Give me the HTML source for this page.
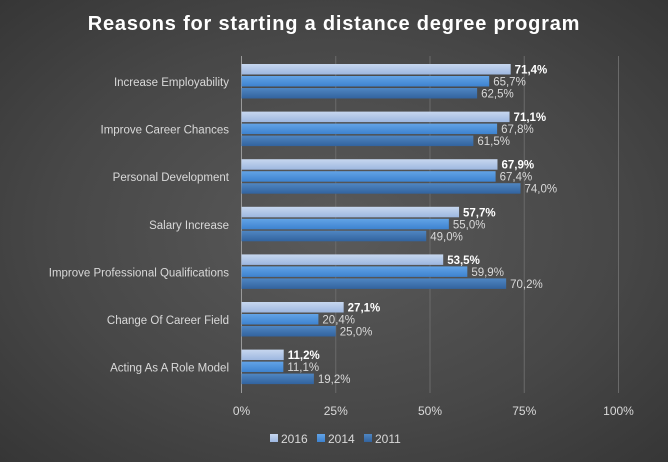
<!DOCTYPE html>
<html><head><meta charset="utf-8"><style>
body{margin:0;width:668px;height:462px;overflow:hidden;background:radial-gradient(ellipse at 50% 50%,#5a5a5a 0%,#474747 60%,#363636 100%);font-family:"Liberation Sans",sans-serif;}
svg{display:block}
</style></head><body>
<svg id="chart" width="668" height="462" xmlns="http://www.w3.org/2000/svg">
<defs>
<linearGradient id="g0" x1="0" y1="0" x2="0" y2="1"><stop offset="0" stop-color="#c7d7ef"/><stop offset="1" stop-color="#9db7e0"/></linearGradient>
<linearGradient id="g1" x1="0" y1="0" x2="0" y2="1"><stop offset="0" stop-color="#62a3e6"/><stop offset="1" stop-color="#3d82cf"/></linearGradient>
<linearGradient id="g2" x1="0" y1="0" x2="0" y2="1"><stop offset="0" stop-color="#4f86c2"/><stop offset="1" stop-color="#32639e"/></linearGradient>
</defs>
<text x="334" y="30" text-anchor="middle" fill="#ffffff" font-size="20" font-weight="bold" letter-spacing="0.8">Reasons for starting a distance degree program</text>
<g id="grid"></g><g id="bars"></g><g id="labels"></g><g id="legend"></g>
</svg>
<script>
const categories=["Increase Employability","Improve Career Chances","Personal Development","Salary Increase","Improve Professional Qualifications","Change Of Career Field","Acting As A Role Model"];
const seriesNames=["2016","2014","2011"];
const s2016=[71.4,71.1,67.9,57.7,53.5,27.1,11.2];
const s2014=[65.7,67.8,67.4,55.0,59.9,20.4,11.1];
const s2011=[62.5,61.5,74.0,49.0,70.2,25.0,19.2];
const ticks=[0,25,50,75,100];
const series=[s2016,s2014,s2011];
const NS="http://www.w3.org/2000/svg";
const x0=241.5,x1=618.5;
function xs(v){return x0+(x1-x0)*v/100;}
function gy(i){return 64+i*47.6;}
function mk(tag,attrs,parent){const e=document.createElementNS(NS,tag);for(const k in attrs)e.setAttribute(k,attrs[k]);parent.appendChild(e);return e;}
const grid=document.getElementById('grid'),bars=document.getElementById('bars'),labels=document.getElementById('labels'),legend=document.getElementById('legend');
ticks.forEach(t=>{
 const l=mk('line',{x1:xs(t),x2:xs(t),y1:56,y2:393,stroke:t===0?'#9a9a9a':'#6a6a6a','stroke-width':1},grid);
 
 
 const tx=mk('text',{x:xs(t),y:415,'text-anchor':'middle',fill:'#d9d9d9','font-size':12},grid);
 tx.textContent=t+'%';
 
 
});
categories.forEach((c,i)=>{
 const t=mk('text',{x:229,y:gy(i)+22,'text-anchor':'end',fill:'#d9d9d9','font-size':11.5},labels);
 t.textContent=c;
 
 
 series.forEach((s,j)=>{
  const y=gy(i)+j*12;
  const r=mk('rect',{x:x0,y:y,width:xs(s[i])-x0,height:10.5,fill:'url(#g'+j+')'},bars);
  
  
  const v=mk('text',{x:xs(s[i])+4,y:y+9.5,fill:j===0?'#ffffff':'#d9d9d9','font-size':11.5,'font-weight':j===0?'bold':'normal'},labels);
  v.textContent=s[i].toFixed(1).replace('.',',')+'%';
  
  
 });
});
seriesNames.forEach((n,j)=>{
 const lx=270+j*47;
 const r=mk('rect',{x:lx,y:434,width:8,height:8,fill:'url(#g'+j+')'},legend);
 
 
 const t=mk('text',{x:lx+11,y:443,fill:'#d9d9d9','font-size':12},legend);
 t.textContent=n;
 
 
});
</script>
</body></html>
